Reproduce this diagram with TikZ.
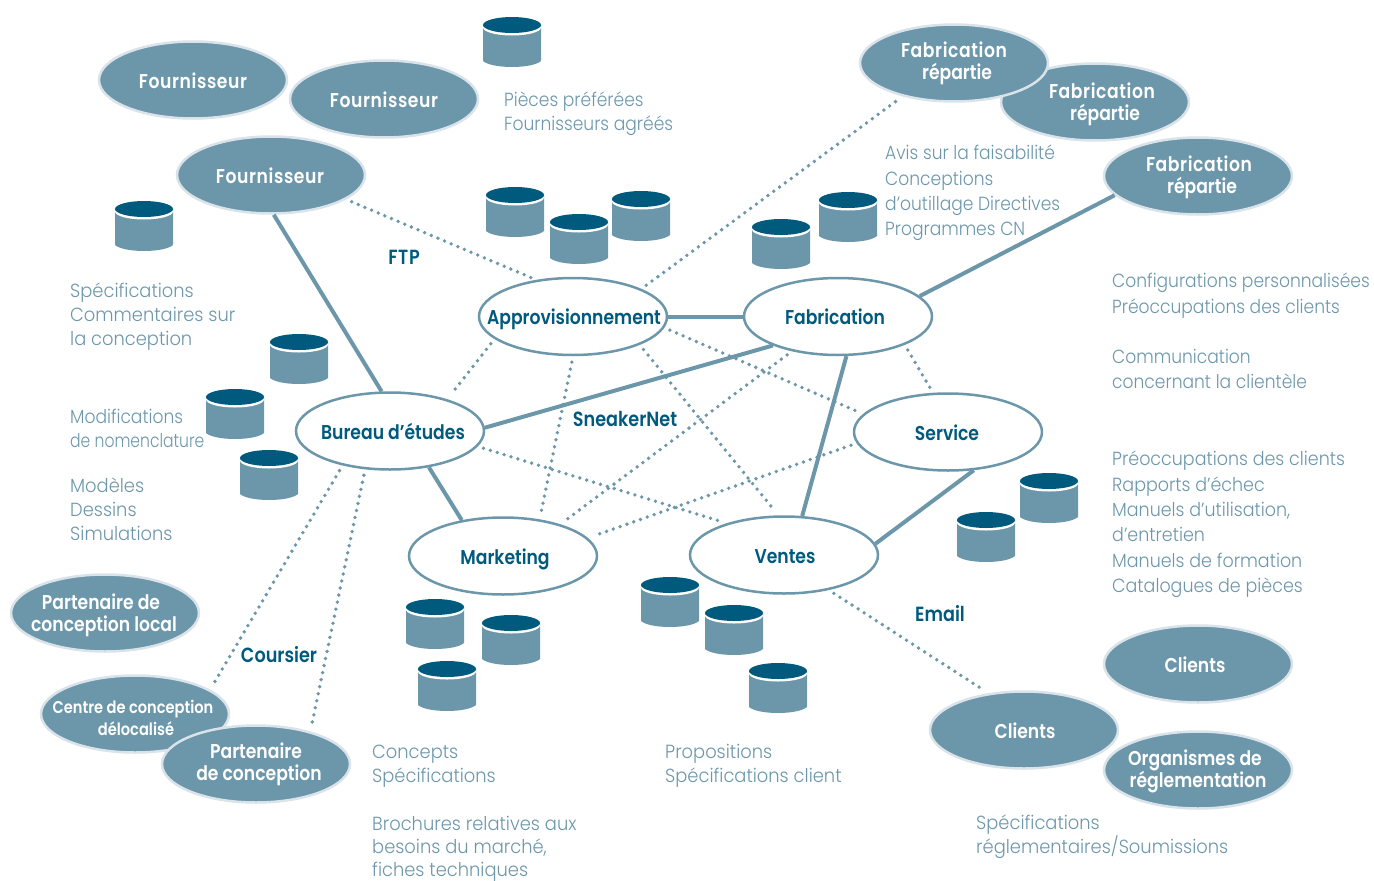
\documentclass[tikz,border=0pt]{standalone}
\usepackage{fontspec}
\usetikzlibrary{shapes.geometric}
\newfontfamily\thinfont[FakeStretch=0.9]{Poppins Light}
\newfontfamily\tightfont[FakeStretch=0.82]{Poppins Light}
\newfontfamily\semifont[FakeStretch=0.92]{Poppins Light}
\newfontfamily\widefont[FakeStretch=0.94]{Poppins Light}
\newfontfamily\midfont[FakeStretch=0.86]{Poppins SemiBold}
\newfontfamily\airfont[FakeStretch=0.86,LetterSpace=3]{Poppins SemiBold}
\definecolor{teal}{HTML}{6C97AB}
\definecolor{deep}{HTML}{005A7D}
\definecolor{rim}{HTML}{D9E3E9}
% one centred line of a label, moved by dx from the centre of its ellipse
\newcommand{\mv}[2]{\makebox[0pt][c]{\kern#1pt\kern#1pt #2}}
\tikzset{
  x=1pt,y=-1pt,
  blob/.style={ellipse,minimum width=188pt,minimum height=77pt,inner sep=0pt,align=center,text depth=0pt,font=\midfont\fontsize{20}{22}\selectfont},
  ext/.style={blob,fill=teal,draw=rim,line width=2.5pt,text=white},
  dept/.style={blob,fill=white,draw=teal,line width=2.5pt,text=deep},
  single/.style={text height=16.5pt},
  conn/.style={draw=teal,line width=4pt},
  dots/.style={draw=teal,line width=3.8pt,line cap=round,dash pattern=on 0pt off 7.2pt,shorten <=6pt,shorten >=6pt},
  tag/.style={inner sep=0pt,text=deep,font=\midfont\fontsize{20.5}{22}\selectfont},
  note/.style={anchor=north west,yshift=-5pt,inner sep=0pt,align=left,text=teal,font=\thinfont\fontsize{19}{24}\selectfont},
  notewide/.style={note,font=\widefont\fontsize{19}{24}\selectfont},
  notelow/.style={note,font=\widefont\fontsize{19}{23}\selectfont},
  notew/.style={note,font=\thinfont\fontsize{19}{25.3}\selectfont},
  notes/.style={note,font=\semifont\fontsize{19}{25.3}\selectfont},
  cyl/.pic={
    \fill[teal] (-29,-2) -- (29,-2) -- (29,34) .. controls (20,42) and (-20,42) .. (-29,34) -- cycle;
    \fill[white] (0,0.5) ellipse[x radius=29,y radius=8];
    \fill[deep] (0,-2) ellipse[x radius=29,y radius=8];
  }
}
\begin{document}
\begin{tikzpicture}
\useasboundingbox (0,0) rectangle (1374,881);
% cylinders
\foreach \p in {(512,27),(144,211),(515,197),(579,224),(641,201),(781,229),(848,202),(299,344),(235,399),(269,460),(1049,483),(986,522),(435,609),(511,625),(447,671),(670,587),(734,615),(778,673)}
  \pic at \p {cyl};
% external nodes
\node[ext,single] (f1) at (193,80) {\airfont\mv{0}{Fournisseur}};
\node[ext,single] (f2) at (384,99) {\airfont\mv{0}{Fournisseur}};
\node[ext,single] (f3) at (271,175) {\airfont\mv{-1}{Fournisseur}};
\node[ext,text height=36.5pt] (fab2) at (1095,102) {\airfont\mv{7}{Fabrication}\\\mv{10}{répartie}};
\node[ext,text height=32.5pt] (fab1) at (954,63) {\airfont\mv{0}{Fabrication}\\\mv{3}{répartie}};
\node[ext,text height=34.5pt] (fab3) at (1198,176) {\airfont\mv{1}{Fabrication}\\\mv{4}{répartie}};
\node[ext,text height=36.5pt] (local) at (105,613) {\mv{-4}{Partenaire de}\\\mv{-1}{conception local}};
\node[ext,text height=42pt,font=\midfont\fontsize{17}{22}\selectfont] (centre) at (135,714) {\mv{-2}{Centre de conception}\\\mv{1}{délocalisé}};
\node[ext,text height=32.5pt] (part) at (256,764) {\mv{0}{Partenaire}\\\mv{3}{de conception}};
\node[ext,single] (cl1) at (1198,664) {\mv{-3}{Clients}};
\node[ext,single] (cl2) at (1024,730) {\mv{1}{Clients}};
\node[ext,text height=34.5pt] (org) at (1198,770) {\mv{-3}{Organismes de}\\\mv{0}{réglementation}};
% departments
\node[dept,single] (appro) at (573,316.5) {\mv{1}{Approvisionnement}};
\node[dept,single] (fabr) at (838,316.5) {\mv{-3}{Fabrication}};
\node[dept,single] (bur) at (390,431) {\mv{3}{Bureau d’études}};
\node[dept,single] (serv) at (948,432) {\mv{-1}{Service}};
\node[dept,single] (mkt) at (503,556) {\mv{2}{Marketing}};
\node[dept,single] (ven) at (784,555) {\mv{1}{Ventes}};
% solid links
\draw[conn] (f3.-86) -- (bur.102);
\draw[conn] (bur.2) -- (fabr.204);
\draw[conn] (appro.east) -- (fabr.west);
\draw[conn] (fabr.14) -- (fab3.193);
\draw[conn] (fabr.-78) -- (ven.65);
\draw[conn] (bur.-43) -- (mkt.139);
\draw[conn] (serv.-56) -- (ven.7);
% dotted links
\draw[dots] (f3.-18) -- (appro.135);
\draw[dots] (appro.22) -- (fab1.213);
\draw[dots] (appro.196) -- (bur.29);
\draw[dots] (appro.south) -- (mkt.45);
\draw[dots] (appro.-23) -- (ven.98);
\draw[dots] (appro.-7) -- (serv.168);
\draw[dots] (fabr.-23) -- (serv.111);
\draw[dots] (fabr.217) -- (mkt.29);
\draw[dots] (bur.-10) -- (ven.151);
\draw[dots] (serv.187) -- (mkt.12);
\draw[dots] (ven.-38) -- (cl2.134);
\draw[dots] (bur.216) -- (centre.18);
\draw[dots] (bur.237) -- (part.31);
% link tags
\node[tag,font=\airfont\fontsize{20.5}{22}\selectfont] (ftp) at (404,257) {FTP};
\node[tag] (sneaker) at (625,419) {SneakerNet};
\node[tag] (mail) at (940,614) {Email};
\node[tag] (cour) at (279,655) {Coursier};
% notes
\node[note] (n1) at (504,86.5) {Pièces préférées\\Fournisseurs agréés};
\node[notewide] (n2) at (70,278) {Spécifications\\Commentaires sur\\la conception};
\node[note] (n3) at (70,404) {Modifications\\{\tightfont de nomenclature}};
\node[notewide] (n4) at (70,473) {Modèles\\Dessins\\Simulations};
\node[notew] (n5) at (885,140) {Avis sur la faisabilité\\Conceptions\\d’outillage Directives\\Programmes CN};
\node[notew] (n6) at (1112,268) {Configurations personnalisées\\Préoccupations des clients};
\node[notew] (n7) at (1112,344) {Communication\\concernant la clientèle};
\node[notes] (n8) at (1112,446) {Préoccupations des clients\\Rapports d’échec\\Manuels d’utilisation,\\d’entretien\\Manuels de formation\\Catalogues de pièces};
\node[notewide] (n9) at (372,739.5) {Concepts\\Spécifications};
\node[notelow] (n10) at (372,811) {Brochures relatives aux\\besoins du marché,\\fiches techniques};
\node[notewide] (n11) at (665,739) {Propositions\\Spécifications client};
\node[notewide] (n12) at (976,810) {Spécifications\\réglementaires/Soumissions};
\end{tikzpicture}
\end{document}
